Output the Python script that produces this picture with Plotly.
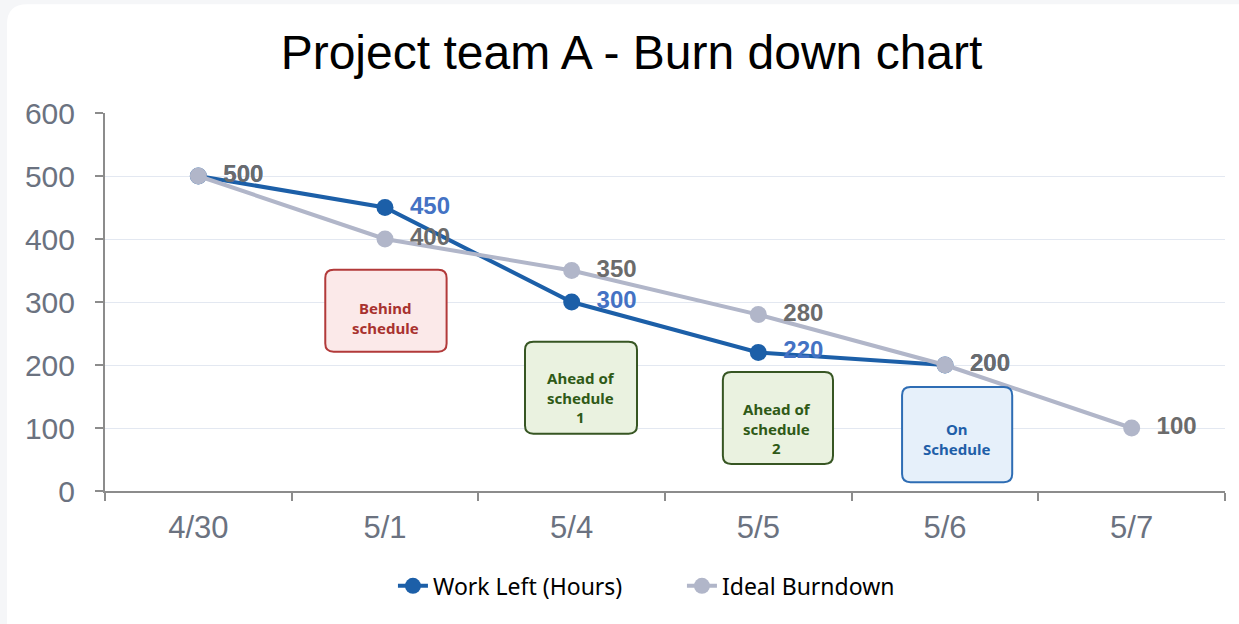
import plotly.graph_objects as go

# data
dates = ["4/30", "5/1", "5/4", "5/5", "5/6", "5/7"]
work_left = [500, 450, 300, 220, 200, None]
ideal = [500, 400, 350, 280, 200, 100]

# status callouts: text, centre (category index, value), box extents
note_text = ["Behind<br>schedule", "Ahead of<br>schedule<br>1", "Ahead of<br>schedule<br>2", "On<br>Schedule"]
note_x = [1.0, 2.05, 3.1, 4.06]
note_y = [275, 149, 100, 82]
box_x0 = [0.68, 1.75, 2.81, 3.77]
box_x1 = [1.33, 2.35, 3.40, 4.36]
box_y0 = [221, 91, 43, 14]
box_y1 = [351, 237, 189, 165]
note_fill = ["#fbe9e9", "#eaf2e0", "#eaf2e0", "#e6f0fa"]
note_line = ["#b23a3a", "#375623", "#375623", "#2e6db4"]
note_font = ["#a8322f", "#2f5a17", "#2f5a17", "#1f5fa8"]

BLUE = "#1c5fa8"
GREY = "#b1b6c9"
PAD = "\u00a0\u00a0"


def rounded_rect(x0, y0, x1, y1, rx, ry):
    return (f"M {x0+rx},{y0} L {x1-rx},{y0} Q {x1},{y0} {x1},{y0+ry} "
            f"L {x1},{y1-ry} Q {x1},{y1} {x1-rx},{y1} L {x0+rx},{y1} "
            f"Q {x0},{y1} {x0},{y1-ry} L {x0},{y0+ry} Q {x0},{y0} {x0+rx},{y0} Z")


fig = go.Figure()
fig.add_trace(go.Scatter(
    x=dates, y=work_left, name="Work Left (Hours)", mode="lines+markers+text",
    line=dict(color=BLUE, width=4), marker=dict(size=17, color=BLUE),
    text=[PAD + str(v) if v is not None else "" for v in work_left],
    textposition="middle right",
    textfont=dict(family="Liberation Sans", size=24, color="#4472c4", weight="bold"),
))
fig.add_trace(go.Scatter(
    x=dates, y=ideal, name="Ideal Burndown", mode="lines+markers+text",
    line=dict(color=GREY, width=4), marker=dict(size=17, color=GREY),
    text=[PAD + str(v) for v in ideal], textposition="middle right",
    textfont=dict(family="Liberation Sans", size=24, color="#6b6b6b", weight="bold"),
))

shapes = [dict(
    type="path", xref="paper", yref="paper", layer="below",
    path=rounded_rect(-0.0875, -0.4, 1.03, 1.288, 0.018, 0.053),
    fillcolor="white", line=dict(width=0),
)]
for i in range(len(note_text)):
    shapes.append(dict(
        type="path", xref="x", yref="y", layer="above",
        path=rounded_rect(box_x0[i], box_y0[i], box_x1[i], box_y1[i], 0.045, 13),
        fillcolor=note_fill[i], line=dict(color=note_line[i], width=2),
    ))

annotations = [dict(
    x=note_x[i], y=note_y[i], xref="x", yref="y", text=note_text[i], showarrow=False,
    font=dict(family="Noto Sans", size=15, color=note_font[i], weight="bold"),
) for i in range(len(note_text))]

fig.update_layout(
    width=1239, height=624,
    margin=dict(l=105, r=14, t=113, b=133),
    paper_bgcolor="#f5f6f8", plot_bgcolor="rgba(0,0,0,0)",
    title=dict(text="Project team A - Burn down chart", x=0.5097, xanchor="center",
               y=0.917, yanchor="middle",
               font=dict(family="Liberation Sans", size=48, color="black")),
    showlegend=True,
    legend=dict(orientation="h", x=0.2571, xanchor="left", y=-0.251, yanchor="middle",
                font=dict(family="Noto Sans", size=23, color="black"),
                bgcolor="rgba(0,0,0,0)", entrywidth=244),
    shapes=shapes, annotations=annotations,
    xaxis=dict(type="category", range=[-0.5, 5.5], tickson="boundaries",
               ticks="outside", ticklen=8, tickwidth=2, tickcolor="#8c8c8c",
               showline=True, linecolor="#8c8c8c", linewidth=2, showgrid=False,
               ticklabelstandoff=8,
               tickfont=dict(family="Liberation Sans", size=31, color="#6b7280")),
    yaxis=dict(range=[0, 600], dtick=100, ticks="outside", ticklen=8, tickwidth=2,
               tickcolor="#8c8c8c", showline=True, linecolor="#8c8c8c", linewidth=2,
               gridcolor="#e3e8f1", gridwidth=1, zeroline=False,
               ticklabelstandoff=14,
               tickfont=dict(family="Liberation Sans", size=30, color="#6b7280")),
)

fig.write_html("out.html", config={"displayModeBar": False},
               post_script="document.body.style.margin='0';")
